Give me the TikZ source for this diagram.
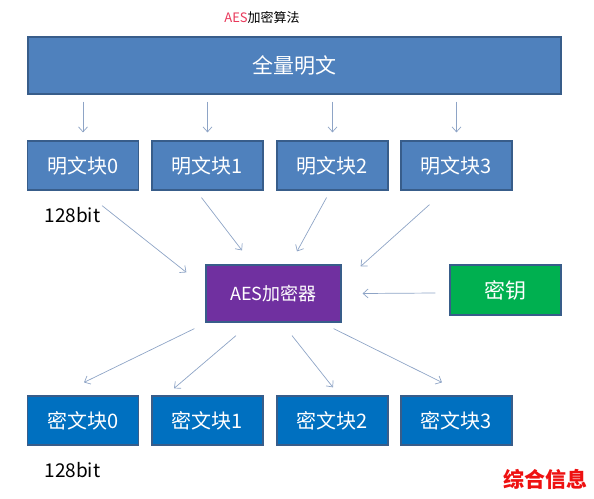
\documentclass[tikz,border=0pt]{standalone}
\usepackage{fontspec}
\setmainfont{Noto Sans CJK SC}
\usetikzlibrary{arrows.meta}
\tikzset{>={Straight Barb[length=5pt,width=9pt]}}
\definecolor{plainblue}{HTML}{4F81BD}
\definecolor{cipherblue}{HTML}{0070C0}
\definecolor{aespurple}{HTML}{7030A0}
\definecolor{keygreen}{HTML}{00B050}
\definecolor{edgeblue}{HTML}{385D8A}
\definecolor{arrowgray}{HTML}{8EA4C6}
\definecolor{titlered}{HTML}{E8385A}
\definecolor{markred}{HTML}{EE1111}
\tikzset{
  blockbox/.style={draw=edgeblue, line width=1.2pt, minimum width=111pt, minimum height=49pt,
    text=white, font=\fontsize{20}{20}\selectfont},
  arr/.style={->, draw=arrowgray, line width=0.7pt},
  sizenote/.style={anchor=west, font=\fontsize{19}{19}\selectfont},
}

\begin{document}
\begin{tikzpicture}[x=1pt,y=-1pt]
  \useasboundingbox (0,0) rectangle (594,498);
  \node (title) at (262,18) {\fontsize{13}{13}\selectfont\textcolor{titlered}{AES}加密算法};
  \node[blockbox, fill=plainblue, minimum width=533pt, minimum height=57pt,
    font=\fontsize{21}{21}\selectfont] (all) at (294.5,65.5) {全量明文};
  \foreach \i/\x in {0/83,1/207.5,2/332.5,3/456.5} {
    \node[blockbox, fill=plainblue] (p\i) at (\x,165.5) {明文块\i};
    \node[blockbox, fill=cipherblue] (c\i) at (\x,420.5) {密文块\i};
    \draw[arr, shorten <=7pt, shorten >=8pt] (all.south -| p\i.north) -- (p\i.north);
  }
  \node[blockbox, fill=aespurple, minimum width=135pt, minimum height=57pt,
    font=\fontsize{18}{18}\selectfont] (aes) at (273.5,293.5) {AES加密器};
  \node[blockbox, fill=keygreen, minimum height=50pt, font=\fontsize{21}{21}\selectfont]
    (key) at (505.5,290) {密钥};
  \node[sizenote] (bits1) at (41,215) {128bit};
  \node[sizenote] (bits2) at (41,470) {128bit};
  \node[text=markred, font=\fontsize{21}{21}\selectfont\bfseries] (mark) at (545.5,479) {综合信息};

  \draw[arr] ([shift={(19,15)}]p0.south) -- ([shift={(-19,8)}]aes.north west);
  \draw[arr] ([shift={(-6,7)}]p1.south) -- ([shift={(-31.5,-14)}]aes.north);
  \draw[arr] ([shift={(-6,7)}]p2.south) -- ([shift={(23.5,-13)}]aes.north);
  \draw[arr] ([shift={(-27,14)}]p3.south) -- ([shift={(19,2)}]aes.north east);
  \draw[arr] ([shift={(-14,3)}]key.west) -- ([shift={(21,0)}]aes.east);

  \draw[arr] ([shift={(-11,6)}]aes.south west) -- ([shift={(1,-13)}]c0.north);
  \draw[arr] ([shift={(-37.5,13)}]aes.south) -- ([shift={(-33.5,-7)}]c1.north);
  \draw[arr] ([shift={(18.5,13)}]aes.south) -- ([shift={(0.5,-8)}]c2.north);
  \draw[arr] ([shift={(-8,6)}]aes.south east) -- ([shift={(-14.5,-13)}]c3.north);
\end{tikzpicture}
\end{document}
